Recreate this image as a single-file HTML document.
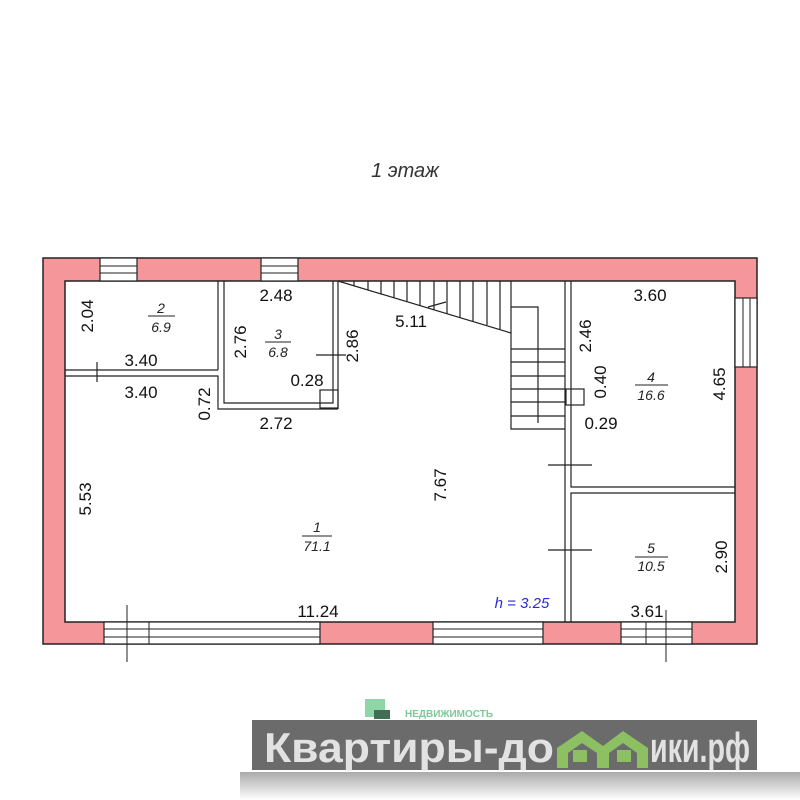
<!DOCTYPE html>
<html><head><meta charset="utf-8"><style>
body{margin:0;width:800px;height:800px;background:#fff;overflow:hidden}
svg{display:block}
.d{font-family:"Liberation Sans",sans-serif;font-size:17px;fill:#111}
.r{font-family:"Liberation Sans",sans-serif;font-size:14px;font-style:italic;fill:#222}
</style></head><body>
<svg width="800" height="800" viewBox="0 0 800 800">
<defs><linearGradient id="sh" x1="0" y1="0" x2="0" y2="1"><stop offset="0" stop-color="#aaa"/><stop offset="1" stop-color="#fff"/></linearGradient></defs>
<text x="405" y="177" text-anchor="middle" font-family="Liberation Sans,sans-serif" font-size="20" font-style="italic" fill="#333">1 этаж</text>
<path d="M43 258H757V644H43Z M65 281V622H735V281Z" fill="#f4969a" fill-rule="evenodd" stroke="#222" stroke-width="1.5"/>
<g fill="#fff" stroke="#222" stroke-width="1.2">
<rect x="100" y="258" width="37" height="23"/><rect x="261" y="258" width="37" height="23"/>
<rect x="735" y="298" width="22" height="69"/>
<rect x="104" y="622" width="216" height="22"/><rect x="433" y="622" width="110" height="22"/><rect x="621" y="622" width="71" height="22"/>
</g>
<g stroke="#222" stroke-width="1">
<path d="M100 266H137M100 273H137M261 266H298M261 273H298"/>
<path d="M743 298V367M750 298V367"/>
<path d="M104 629H320M104 637H320M149 622V644M433 629H543M433 637H543M621 629H692M621 637H692M646 622V644"/>
<path d="M127 605V662M666 610V662"/>
</g>
<g fill="none" stroke="#222" stroke-width="1.2">
<path d="M65 370H218M65 376H218V409H338M218 370V281M224 281V403H333V281M338 281V409"/>
<rect x="320" y="390" width="18" height="18"/>
<path d="M565 281V622M571 281V487H735M571 622V493H735"/>
<rect x="566" y="389" width="18" height="16"/>
<path d="M97 362V382M316 355H346M548 465H592M548 550H592"/>
<path d="M338 281L511 333V429H565"/>
<path d="M511 349H565M511 362H565M511 376H565M511 389H565M511 402H565M511 416H565"/>
<path d="M511 307H538V423"/>
<path d="M354 281V286M368 281V290M381 281V294M394 281V298M407 281V302M420 281V306M434 281V310M447 281V314M460 281V318M473 281V321M487 281V325M500 281V329M511 281V333"/>
<path d="M428 307L446 302"/>
</g>
<g class="d">
<text x="276" y="301" text-anchor="middle">2.48</text>
<text x="411" y="327" text-anchor="middle">5.11</text>
<text x="650" y="301" text-anchor="middle">3.60</text>
<text x="141" y="366" text-anchor="middle">3.40</text>
<text x="141" y="398" text-anchor="middle">3.40</text>
<text x="307" y="386" text-anchor="middle">0.28</text>
<text x="276" y="429" text-anchor="middle">2.72</text>
<text x="601" y="429" text-anchor="middle">0.29</text>
<text x="318" y="617" text-anchor="middle">11.24</text>
<text x="647" y="617" text-anchor="middle">3.61</text>
<text transform="translate(93,316) rotate(-90)" text-anchor="middle">2.04</text>
<text transform="translate(246,342) rotate(-90)" text-anchor="middle">2.76</text>
<text transform="translate(358,346) rotate(-90)" text-anchor="middle">2.86</text>
<text transform="translate(210,404) rotate(-90)" text-anchor="middle">0.72</text>
<text transform="translate(91,499) rotate(-90)" text-anchor="middle">5.53</text>
<text transform="translate(446,485) rotate(-90)" text-anchor="middle">7.67</text>
<text transform="translate(591,336) rotate(-90)" text-anchor="middle">2.46</text>
<text transform="translate(606,382) rotate(-90)" text-anchor="middle">0.40</text>
<text transform="translate(725,384) rotate(-90)" text-anchor="middle">4.65</text>
<text transform="translate(727,557) rotate(-90)" text-anchor="middle">2.90</text>
</g>
<g class="r" text-anchor="middle">
<text x="161" y="313">2</text><text x="161" y="332">6.9</text>
<text x="278" y="339">3</text><text x="278" y="357">6.8</text>
<text x="651" y="382">4</text><text x="651" y="400">16.6</text>
<text x="317" y="532">1</text><text x="317" y="551">71.1</text>
<text x="651" y="553">5</text><text x="651" y="571">10.5</text>
</g>
<g stroke="#222" stroke-width="1">
<path d="M148 316H175M265 342H291M635 385H668M302 536H332M635 557H668"/>
</g>
<text x="522" y="608" text-anchor="middle" font-family="Liberation Sans,sans-serif" font-size="15" font-style="italic" fill="#2a2ad0">h = 3.25</text>
<rect x="240" y="772" width="560" height="28" fill="url(#sh)"/>
<rect x="365" y="699" width="20" height="18" fill="#8fd6a6"/>
<rect x="374" y="710" width="16" height="9" fill="#3f6f55"/>
<text x="405" y="717" font-family="Liberation Sans,sans-serif" font-size="10" font-weight="bold" fill="#7cc99a">НЕДВИЖИМОСТЬ</text>
<rect x="252" y="720" width="505" height="50" fill="#6b6b6b"/>
<text x="264" y="762" font-family="Liberation Sans,sans-serif" font-size="42" font-weight="bold" fill="#e2e2e2" textLength="290" lengthAdjust="spacingAndGlyphs">Квартиры-до</text>
<path d="M557 768V748L582 731L603 746L623 731L648 748V768H637V753L623 743L609 753V768H597V753L582 743L568 753V768Z" fill="#8cc063"/>
<rect x="573" y="750" width="14" height="12" fill="#8cc063"/><rect x="617" y="750" width="14" height="12" fill="#8cc063"/>
<text x="650" y="762" font-family="Liberation Sans,sans-serif" font-size="42" font-weight="bold" fill="#e2e2e2" textLength="100" lengthAdjust="spacingAndGlyphs">ики.рф</text>
</svg>
</body></html>
